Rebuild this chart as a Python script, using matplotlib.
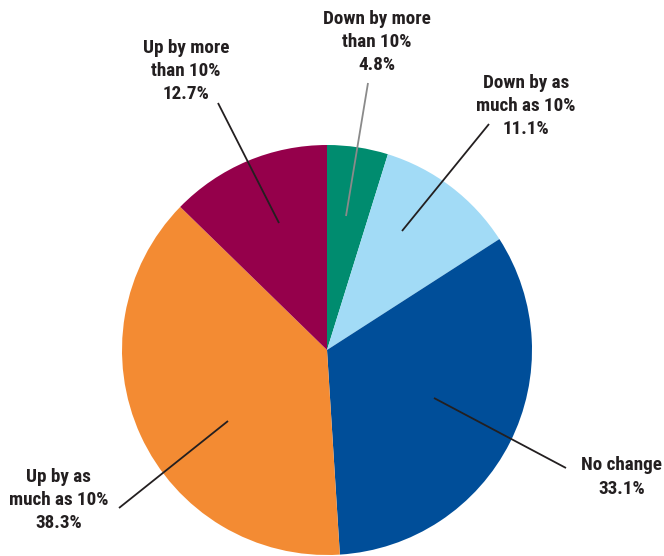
import matplotlib.pyplot as plt
from matplotlib import font_manager

# --- Data ---
categories = ["Down by more\nthan 10%", "Down by as\nmuch as 10%", "No change",
              "Up by as\nmuch as 10%", "Up by more\nthan 10%"]
shares = [4.8, 11.1, 33.1, 38.3, 12.7]
colors = ["#008C6F", "#A2DBF6", "#004E99", "#F38B33", "#95004B"]

# label placement (pixel coords, y from top) and leader lines
label_pos = [(377, 42), (526, 106), (662, 477), (9, 500), (186, 71)]
label_ha = ["center", "center", "right", "left", "center"]
leader_in = [(346, 216), (402, 231), (434, 398), (228, 421), (279, 223)]
leader_out = [(368, 83), (489, 124), (566, 468), (119, 508), (218, 103)]
leader_col = ["#8a8a8a", "#231f20", "#231f20", "#231f20", "#231f20"]

# pick a narrow bold face if one is installed
installed = {f.name for f in font_manager.fontManager.ttflist}
prefs = ["Roboto Condensed", "Liberation Sans Narrow", "Open Sans Condensed",
         "Lato", "Roboto"]
face = next((p for p in prefs if p in installed), "DejaVu Sans")
font = [face, "DejaVu Sans"]
fsize = 13.8 if ("Condensed" in face or "Narrow" in face) else 12.5

W, H = 664, 556
fig = plt.figure(figsize=(W / 100, H / 100), dpi=100)
ax = fig.add_axes([0, 0, 1, 1])

ax.pie(shares, colors=colors, startangle=90, counterclock=False,
       center=(327, H - 350), radius=205, frame=True,
       wedgeprops=dict(linewidth=0))
ax.set_xlim(0, W)
ax.set_ylim(0, H)
ax.set_aspect("equal")
ax.axis("off")

for cat, val, (tx, ty), ha, p0, p1, lc in zip(categories, shares, label_pos,
                                              label_ha, leader_in, leader_out,
                                              leader_col):
    ax.plot([p0[0], p1[0]], [H - p0[1], H - p1[1]], color=lc, lw=1.3,
            solid_capstyle="butt")
    ax.text(tx, H - ty, f"{cat}\n{val:.1f}%", ha=ha, va="center",
            multialignment="center", fontsize=fsize, fontweight="bold",
            family=font, color="#231f20", linespacing=1.38)

fig.savefig("out.png", dpi=100)
plt.close(fig)
